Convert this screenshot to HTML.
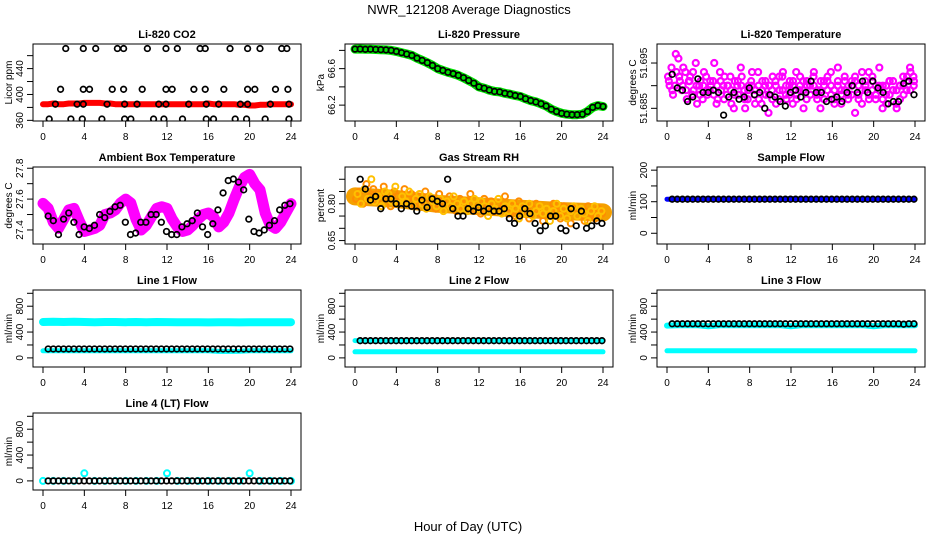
<!DOCTYPE html>
<html><head><meta charset="utf-8"><style>
html,body{margin:0;padding:0;background:#fff;width:936px;height:540px;overflow:hidden}
svg{display:block;font-family:"Liberation Sans",Arial,sans-serif}
</style></head><body>
<svg id="chart" width="936" height="540" viewBox="0 0 936 540" xmlns="http://www.w3.org/2000/svg">
<rect width="936" height="540" fill="#fff"/>
<text x="469" y="14" text-anchor="middle" font-size="13">NWR_121208  Average Diagnostics</text>
<text x="468" y="531" text-anchor="middle" font-size="13">Hour of Day (UTC)</text>
</svg>
<script>
// ---- data ----
const xTicks = [0,4,8,12,16,20,24];
const co2Top = [2.2,3.9,5.1,7.2,7.8,10.1,11.9,13.0,15.2,15.7,18.1,19.8,21.0,23.1,23.6];
const co2Mid = [1.7,3.9,4.5,6.7,7.8,9.6,11.9,12.5,14.6,15.7,17.5,19.8,20.5,22.5,23.7];
const co2Base = [1.2,3.3,3.9,6.2,7.9,9.1,11.2,11.9,14.1,15.8,17.0,19.1,19.8,22.0,23.8];
const co2Low = [0.6,2.7,3.8,5.7,7.9,8.5,10.7,11.7,13.5,15.8,16.5,18.6,19.7,21.5,23.8];
const co2Levels = [471,408,385,362];
const co2Red = [385,385,386,385,385,386,386,386,387,387,387,387,386,386,385,385,385,385,385,385,385,385,385,385,385,385,385,385,385,385,385,385,386,385,385,385,385,385,384,384,383,383,384,384,385,385,385,385,385];
const pressure = [66.814,66.815,66.812,66.813,66.810,66.808,66.805,66.800,66.789,66.775,66.760,66.745,66.715,66.690,66.665,66.635,66.600,66.580,66.560,66.545,66.526,66.500,66.470,66.440,66.400,66.385,66.365,66.350,66.345,66.330,66.320,66.305,66.295,66.270,66.250,66.235,66.215,66.190,66.155,66.130,66.110,66.100,66.095,66.095,66.100,66.130,66.175,66.195,66.185];
const liTempA = [51.692,51.694,51.690,51.696,51.689,51.693,51.691,51.688,51.695,51.690,51.687,51.692,51.689,51.691,51.686,51.693,51.690,51.688,51.692,51.685,51.690,51.694,51.689,51.687,51.691,51.688,51.693,51.686,51.690,51.684,51.689,51.691,51.687,51.692,51.688,51.690,51.686,51.693,51.689,51.691,51.687,51.690,51.692,51.688,51.685,51.691,51.689,51.693,51.687,51.690,51.686,51.692,51.688,51.691,51.684,51.690,51.693,51.689,51.687,51.692,51.688,51.694,51.690,51.686,51.691,51.689,51.685,51.690,51.688,51.692,51.693,51.691];
const liTempB = [51.690,51.688,51.693,51.691,51.694,51.687,51.692,51.689,51.686,51.691,51.693,51.688,51.690,51.695,51.687,51.689,51.692,51.690,51.686,51.691,51.688,51.692,51.685,51.690,51.693,51.689,51.687,51.691,51.688,51.690,51.692,51.686,51.689,51.693,51.687,51.691,51.690,51.688,51.692,51.685,51.690,51.688,51.693,51.689,51.691,51.687,51.692,51.690,51.686,51.694,51.689,51.691,51.687,51.690,51.692,51.688,51.686,51.691,51.693,51.689,51.687,51.690,51.685,51.688,51.691,51.689,51.686,51.690,51.692,51.689,51.694,51.692];
const liTempC = [51.691,51.689,51.697,51.692,51.690,51.689,51.691,51.693,51.690,51.688,51.690,51.689,51.691,51.688,51.690,51.691,51.687,51.690,51.689,51.688,51.691,51.690,51.687,51.689,51.690,51.686,51.690,51.689,51.691,51.688,51.687,51.690,51.692,51.689,51.690,51.688,51.691,51.687,51.690,51.689,51.691,51.688,51.690,51.687,51.689,51.690,51.691,51.688,51.689,51.691,51.688,51.689,51.690,51.688,51.691,51.687,51.689,51.690,51.688,51.691,51.690,51.689,51.687,51.690,51.688,51.691,51.689,51.687,51.690,51.691,51.689,51.690];
const liTempBlack = [51.6925,51.6895,51.689,51.6865,51.6875,51.6915,51.6885,51.6885,51.689,51.6885,51.6835,51.6875,51.6885,51.687,51.6875,51.6895,51.688,51.6885,51.685,51.688,51.6875,51.6865,51.6855,51.6885,51.689,51.6875,51.6885,51.691,51.6885,51.6885,51.6865,51.687,51.6875,51.6865,51.6885,51.690,51.6885,51.691,51.6885,51.691,51.6895,51.6885,51.686,51.6865,51.6865,51.6905,51.691,51.688];
const ambient = [27.572,27.54,27.45,27.41,27.47,27.53,27.54,27.46,27.39,27.40,27.41,27.43,27.50,27.51,27.53,27.575,27.60,27.575,27.47,27.40,27.43,27.485,27.54,27.55,27.54,27.47,27.42,27.39,27.40,27.43,27.47,27.50,27.51,27.485,27.42,27.45,27.51,27.60,27.68,27.74,27.76,27.70,27.66,27.51,27.43,27.41,27.45,27.51,27.57];
const ambientBlack = [27.49,27.46,27.37,27.47,27.51,27.45,27.37,27.42,27.41,27.43,27.50,27.48,27.52,27.55,27.56,27.45,27.37,27.38,27.45,27.45,27.50,27.50,27.45,27.39,27.37,27.37,27.42,27.44,27.46,27.51,27.42,27.37,27.44,27.53,27.64,27.72,27.73,27.71,27.66,27.47,27.39,27.38,27.40,27.43,27.46,27.53,27.56,27.57];
const rhTrend = [0.83,0.82,0.80,0.79,0.78,0.77,0.765];
const rhA = [0.82,0.85,0.80,0.88,0.83,0.86,0.81,0.84,0.87,0.82,0.79,0.85,0.83,0.80,0.86,0.82,0.84,0.79,0.83,0.81,0.85,0.80,0.82,0.78,0.84,0.81,0.79,0.83,0.80,0.77,0.82,0.79,0.81,0.84,0.78,0.80,0.76,0.82,0.79,0.81,0.77,0.80,0.78,0.83,0.76,0.79,0.75,0.81,0.77,0.79,0.74,0.78,0.80,0.76,0.73,0.78,0.75,0.80,0.77,0.74,0.79,0.76,0.72,0.78,0.75,0.77,0.73,0.79,0.76,0.74,0.78,0.76];
const rhB = [0.84,0.80,0.86,0.82,0.90,0.81,0.83,0.79,0.85,0.84,0.81,0.87,0.80,0.83,0.81,0.85,0.79,0.82,0.84,0.80,0.78,0.83,0.81,0.79,0.82,0.77,0.81,0.79,0.83,0.80,0.78,0.81,0.77,0.80,0.82,0.78,0.81,0.79,0.75,0.80,0.78,0.82,0.76,0.79,0.77,0.80,0.78,0.74,0.79,0.76,0.80,0.75,0.77,0.79,0.76,0.78,0.73,0.77,0.80,0.75,0.78,0.74,0.77,0.79,0.75,0.78,0.76,0.73,0.77,0.79,0.75,0.77];
const rhBlack = [0.90,0.86,0.815,0.83,0.78,0.82,0.82,0.80,0.78,0.80,0.79,0.77,0.815,0.785,0.82,0.81,0.80,0.90,0.78,0.75,0.75,0.78,0.77,0.785,0.77,0.78,0.77,0.77,0.78,0.74,0.72,0.75,0.78,0.76,0.72,0.69,0.71,0.75,0.75,0.70,0.69,0.78,0.71,0.77,0.70,0.71,0.73,0.72];
const sampleBlue = [108,108,108,108,110,108,108,108,108,108,108,108,110,108,108,108,108,108,108,108,108,108,108,108,108];
const sampleBlack = [108,108,108,108,108,108,108,108,108,108,108,108,108,108,108,108,108,108,108,108,108,108,108,108,108,108,108,108,108,108,108,108,108,108,108,108,108,108,108,108,108,108,108,108,108,108,108,108];
const line1Upper = [555,560,555,558,555,552,556,555,553,555,552,556,554,552,553,552,550,552,551,550,552,553,551,552,552];
const line1Lower = [110,112,110,112,112,110,110,112,112,110,110,112,112,110,110,112,110,100,100,102,110,110,112,110,110];
const line1Black = [138,138,138,138,138,138,138,138,138,138,138,138,138,138,138,138,138,138,138,138,138,138,138,138,138,138,138,138,138,138,138,138,138,138,138,138,138,138,138,138,138,138,138,138,138,138,138,138];
const line2Upper = [268,268,268,268,262,268,268,268,268,268,268,268,262,268,268,268,268,268,268,268,262,268,268,268,268];
const line2Lower = [95,95,95,95,95,95,95,95,95,95,95,95,95,95,95,95,95,95,95,95,95,95,95,95,95];
const line2Black = [266,266,266,266,266,266,266,266,266,266,266,266,266,266,266,266,266,266,266,266,266,266,266,266,266,266,266,266,266,266,266,266,266,266,266,266,266,266,266,266,266,266,266,266,266,266,266,266];
const line3Upper = [500,505,505,505,490,505,505,505,505,505,505,505,490,505,505,505,505,505,505,505,490,505,505,505,505];
const line3Lower = [110,110,110,110,112,110,110,110,110,110,110,110,110,110,110,110,110,110,110,110,110,110,110,110,110];
const line3Black = [528,528,528,528,528,528,528,528,528,528,528,528,528,528,528,528,528,528,528,528,528,528,528,528,528,528,528,528,528,528,528,528,528,528,528,528,528,528,528,528,528,528,528,528,528,522,528,528];
const line4Cyan = [0,0,0,0,118,0,0,0,0,0,0,0,118,0,0,0,0,0,0,0,118,0,0,0,0];
const line4Black = [0,0,0,0,0,0,0,0,0,0,0,0,0,0,0,0,0,0,0,0,0,0,0,0,0,0,0,0,0,0,0,0,0,0,0,0,0,0,0,0,0,0,0,0,0,0,0,0];
const flowTicks = [0,200,400,600,800,1000];
const flowLabels = ['0','','400','','800',''];

// ---- layout ----
const NS = 'http://www.w3.org/2000/svg';
const svg = document.getElementById('chart');
const colX0 = [43,355,667], rowTop = [44,167,290,413];
const XW = 248, BH = 77;
function el(tag, attrs, parent){ const e=document.createElementNS(NS,tag); for(const k in attrs) e.setAttribute(k,attrs[k]); (parent||svg).appendChild(e); return e; }

function panel(cfg){
  const g = el('g',{});
  
  
  const x0 = colX0[cfg.col], top = rowTop[cfg.row], bot = top+BH;
  const left = x0-10, right = x0+XW+10;
  const sx = h => x0 + h/24*XW;
  const sy = v => bot - (v-cfg.ylo)/(cfg.yhi-cfg.ylo)*BH;
  const t = el('text',{x:(left+right)/2, y:top-6, 'text-anchor':'middle','font-size':11,'font-weight':'bold'},g);
  t.textContent = cfg.title;
  
  
  cfg.ticks.forEach((v,i)=>{
    const y = sy(v);
    const tk = el('line',{x1:left-6,x2:left,y1:y,y2:y,stroke:'#000','stroke-width':1},g);
    
    
    if(cfg.labels[i]){
      const lb = el('text',{x:0,y:0,'text-anchor':'middle','font-size':10,transform:`translate(${left-10},${y}) rotate(-90)`},g);
      lb.textContent = cfg.labels[i];
      
      
    }
  });
  const yl = el('text',{x:0,y:0,'text-anchor':'middle','font-size':10,transform:`translate(${left-21},${(top+bot)/2}) rotate(-90)`},g);
  yl.textContent = cfg.ylab;
  
  
  xTicks.forEach(h=>{
    const x = sx(h);
    const tk = el('line',{x1:x,x2:x,y1:bot,y2:bot+6,stroke:'#000','stroke-width':1},g);
    
    
    const lb = el('text',{x:x,y:bot+19,'text-anchor':'middle','font-size':10},g);
    lb.textContent = String(h);
    
    
  });
  el('line',{x1:sx(0),x2:sx(24),y1:bot,y2:bot,stroke:'#000'},g);
  const clipId = 'c'+cfg.name;
  const cp = el('clipPath',{id:clipId},g);
  el('rect',{x:left,y:top,width:right-left,height:BH},cp);
  const data = el('g',{'clip-path':`url(#${clipId})`},g);
  
  
  cfg.draw(data, sx, sy);
  const box = el('rect',{x:left,y:top,width:right-left,height:BH,fill:'none',stroke:'#000','stroke-width':1},g);
  
  
}
function pts(g, hours, vals, sx, sy, color, name, r, sw){
  vals.forEach((v,i)=>{
    const c = el('circle',{cx:sx(hours(i,vals.length)),cy:sy(v),r:r||2.8,fill:'none',stroke:color,'stroke-width':sw||1.7},g);
    
    
  });
}
function band(g, hours, vals, sx, sy, color, w, name){
  const p = vals.map((v,i)=>sx(hours(i,vals.length)).toFixed(1)+','+sy(v).toFixed(1)).join(' ');
  const l = el('polyline',{points:p,fill:'none',stroke:color,'stroke-width':w,'stroke-linejoin':'round','stroke-linecap':'round'},g);
  
  
}
const full = (i,n)=> i*24/(n-1);
const blk = (i,n)=> 0.5 + i*23.4/(n-1);
const cloudA = (i,n)=> 0.1 + i*23.8/(n-1);
const cloudB = (i,n)=> 0.25 + i*23.6/(n-1);
const cloudC = (i,n)=> 0.18 + i*23.7/(n-1);
const byList = list => (i)=>list[i];

panel({name:'co2-panel',title:'Li-820 CO2',ylab:'Licor ppm',col:0,row:0,ylo:359,yhi:478,
  ticks:[360,380,400,420,440,460],labels:['360','','400','','440',''],
  draw:(g,sx,sy)=>{
    band(g,full,co2Red,sx,sy,'#f00',6,'co2-red-series');
    [co2Top,co2Mid,co2Base,co2Low].forEach((hs,k)=>{
      pts(g,byList(hs),hs.map(()=>co2Levels[k]),sx,sy,'#000','co2-point');
    });
  }});
panel({name:'pressure-panel',title:'Li-820 Pressure',ylab:'kPa',col:1,row:0,ylo:66.026,yhi:66.87,
  ticks:[66.2,66.4,66.6,66.8],labels:['66.2','','66.6',''],
  draw:(g,sx,sy)=>{
    band(g,full,pressure,sx,sy,'#00e000',9,'pressure-green-series');
    pts(g,full,pressure,sx,sy,'#000','pressure-point');
  }});
panel({name:'li-temp-panel',title:'Li-820 Temperature',ylab:'degrees C',col:2,row:0,ylo:51.6822,yhi:51.6992,
  ticks:[51.685,51.690,51.695],labels:['51.685','','51.695'],
  draw:(g,sx,sy)=>{
    pts(g,cloudA,liTempA,sx,sy,'#f0f','li-temp-magenta-point',3,2.2);
    pts(g,cloudB,liTempB,sx,sy,'#f0f','li-temp-magenta-point',3,2.2);
    pts(g,cloudC,liTempC,sx,sy,'#f0f','li-temp-magenta-point',3,2.2);
    pts(g,blk,liTempBlack,sx,sy,'#000','li-temp-point');
  }});
panel({name:'ambient-panel',title:'Ambient Box Temperature',ylab:'degrees C',col:0,row:1,ylo:27.309,yhi:27.808,
  ticks:[27.4,27.5,27.6,27.7,27.8],labels:['27.4','','27.6','','27.8'],
  draw:(g,sx,sy)=>{
    band(g,full,ambient,sx,sy,'#f0f',11,'ambient-magenta-series');
    pts(g,blk,ambientBlack,sx,sy,'#000','ambient-point');
  }});
panel({name:'rh-panel',title:'Gas Stream RH',ylab:'percent',col:1,row:1,ylo:0.636,yhi:0.95,
  ticks:[0.65,0.70,0.75,0.80,0.85,0.90],labels:['0.65','','','0.80','',''],
  draw:(g,sx,sy)=>{
    band(g,full,rhTrend,sx,sy,'#f5a000',18,'rh-cloud-band');
    pts(g,cloudA,rhA,sx,sy,'#ff8c00','rh-orange-point',3,2);
    pts(g,cloudB,rhB,sx,sy,'#ffc000','rh-orange-point',3,2);
    pts(g,blk,rhBlack,sx,sy,'#000','rh-point');
  }});
panel({name:'sample-flow-panel',title:'Sample Flow',ylab:'ml/min',col:2,row:1,ylo:-34,yhi:210,
  ticks:[0,50,100,150,200],labels:['0','','100','','200'],
  draw:(g,sx,sy)=>{
    band(g,full,sampleBlue,sx,sy,'#00f',5,'sample-flow-blue-series');
    pts(g,blk,sampleBlack,sx,sy,'#000','sample-flow-point');
  }});
panel({name:'line1-panel',title:'Line 1 Flow',ylab:'ml/min',col:0,row:2,ylo:-141,yhi:1051,
  ticks:flowTicks,labels:flowLabels,
  draw:(g,sx,sy)=>{
    band(g,full,line1Upper,sx,sy,'#0ff',8,'line1-upper-series');
    band(g,full,line1Lower,sx,sy,'#0ff',5,'line1-lower-series');
    pts(g,blk,line1Black,sx,sy,'#000','line1-point');
  }});
panel({name:'line2-panel',title:'Line 2 Flow',ylab:'ml/min',col:1,row:2,ylo:-141,yhi:1051,
  ticks:flowTicks,labels:flowLabels,
  draw:(g,sx,sy)=>{
    band(g,full,line2Upper,sx,sy,'#0ff',5,'line2-upper-series');
    band(g,full,line2Lower,sx,sy,'#0ff',5,'line2-lower-series');
    pts(g,blk,line2Black,sx,sy,'#000','line2-point');
  }});
panel({name:'line3-panel',title:'Line 3 Flow',ylab:'ml/min',col:2,row:2,ylo:-141,yhi:1051,
  ticks:flowTicks,labels:flowLabels,
  draw:(g,sx,sy)=>{
    band(g,full,line3Upper,sx,sy,'#0ff',6,'line3-upper-series');
    band(g,full,line3Lower,sx,sy,'#0ff',5,'line3-lower-series');
    pts(g,blk,line3Black,sx,sy,'#000','line3-point');
  }});
panel({name:'line4-panel',title:'Line 4 (LT) Flow',ylab:'ml/min',col:0,row:3,ylo:-141,yhi:1051,
  ticks:flowTicks,labels:flowLabels,
  draw:(g,sx,sy)=>{
    pts(g,full,line4Cyan,sx,sy,'#0ff','line4-cyan-point',3,2);
    pts(g,blk,line4Black,sx,sy,'#000','line4-point');
  }});
</script>
</body></html>
